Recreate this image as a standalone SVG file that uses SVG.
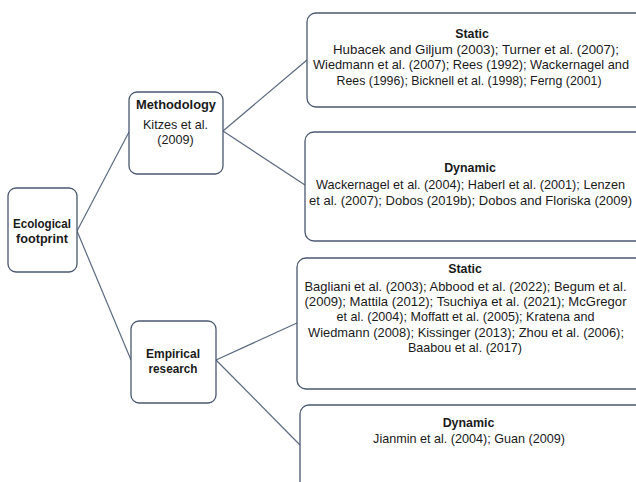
<svg xmlns="http://www.w3.org/2000/svg" width="636" height="482" viewBox="0 0 636 482">
<style>
.box{fill:#fff;stroke:#4a5870;stroke-width:1.3}
.t{font-family:"Liberation Sans",Arial,sans-serif;font-size:12.6px;fill:#1a1a1a;text-anchor:middle}
.b{font-weight:bold;font-size:12.4px}
.c{stroke:#5b6a80;stroke-width:1.2;fill:none}
</style>
<rect width="636" height="482" fill="#fff"/>
<g id="connectors">
<line class="c" x1="77" y1="231" x2="129" y2="132"/>
<line class="c" x1="77" y1="231" x2="131" y2="360"/>
<line class="c" x1="223" y1="131" x2="307" y2="60"/>
<line class="c" x1="223" y1="131" x2="305" y2="185"/>
<line class="c" x1="216" y1="360" x2="297" y2="323"/>
<line class="c" x1="216" y1="360" x2="300" y2="445"/>
</g>
<g id="ecological">
<rect class="box" x="8" y="188" width="69" height="84" rx="8"/>
<text class="t b" x="42" y="228" textLength="58" lengthAdjust="spacingAndGlyphs">Ecological</text>
<text class="t b" x="42" y="243" textLength="52" lengthAdjust="spacingAndGlyphs">footprint</text>
</g>
<g id="methodology">
<rect class="box" x="129" y="92" width="94" height="82" rx="8"/>
<text class="t b" x="176" y="109" textLength="80" lengthAdjust="spacingAndGlyphs">Methodology</text>
<text class="t" x="175.5" y="129">Kitzes et al.</text>
<text class="t" x="175.5" y="144">(2009)</text>
</g>
<g id="empirical">
<rect class="box" x="131" y="321" width="85" height="82" rx="8"/>
<text class="t b" x="173" y="358" textLength="54" lengthAdjust="spacingAndGlyphs">Empirical</text>
<text class="t b" x="173" y="373" textLength="49" lengthAdjust="spacingAndGlyphs">research</text>
</g>
<g id="static-top">
<rect class="box" x="307" y="13" width="340" height="94" rx="9"/>
<text class="t b" x="472" y="38">Static</text>
<text class="t" x="476" y="54" textLength="286" lengthAdjust="spacingAndGlyphs">Hubacek and Giljum (2003); Turner et al. (2007);</text>
<text class="t" x="471" y="69" textLength="316" lengthAdjust="spacingAndGlyphs">Wiedmann et al. (2007); Rees (1992); Wackernagel and</text>
<text class="t" x="469" y="85" textLength="265" lengthAdjust="spacingAndGlyphs">Rees (1996); Bicknell et al. (1998); Ferng (2001)</text>
</g>
<g id="dynamic-top">
<rect class="box" x="305" y="132" width="342" height="109" rx="9"/>
<text class="t b" x="470" y="172">Dynamic</text>
<text class="t" x="470.5" y="189" textLength="309" lengthAdjust="spacingAndGlyphs">Wackernagel et al. (2004); Haberl et al. (2001); Lenzen</text>
<text class="t" x="470.5" y="205" textLength="323" lengthAdjust="spacingAndGlyphs">et al. (2007); Dobos (2019b); Dobos and Floriska (2009)</text>
</g>
<g id="static-bottom">
<rect class="box" x="297" y="258" width="350" height="131" rx="9"/>
<text class="t b" x="465" y="273">Static</text>
<text class="t" x="465.5" y="291" textLength="322" lengthAdjust="spacingAndGlyphs">Bagliani et al. (2003); Abbood et al. (2022); Begum et al.</text>
<text class="t" x="465.5" y="306" textLength="322" lengthAdjust="spacingAndGlyphs">(2009); Mattila (2012); Tsuchiya et al. (2021); McGregor</text>
<text class="t" x="465.5" y="321" textLength="258" lengthAdjust="spacingAndGlyphs">et al. (2004); Moffatt et al. (2005); Kratena and</text>
<text class="t" x="466" y="337" textLength="316" lengthAdjust="spacingAndGlyphs">Wiedmann (2008); Kissinger (2013); Zhou et al. (2006);</text>
<text class="t" x="465" y="352">Baabou et al. (2017)</text>
</g>
<g id="dynamic-bottom">
<rect class="box" x="300" y="405" width="347" height="100" rx="9"/>
<text class="t b" x="468.5" y="427">Dynamic</text>
<text class="t" x="469" y="443">Jianmin et al. (2004); Guan (2009)</text>
</g>
</svg>
